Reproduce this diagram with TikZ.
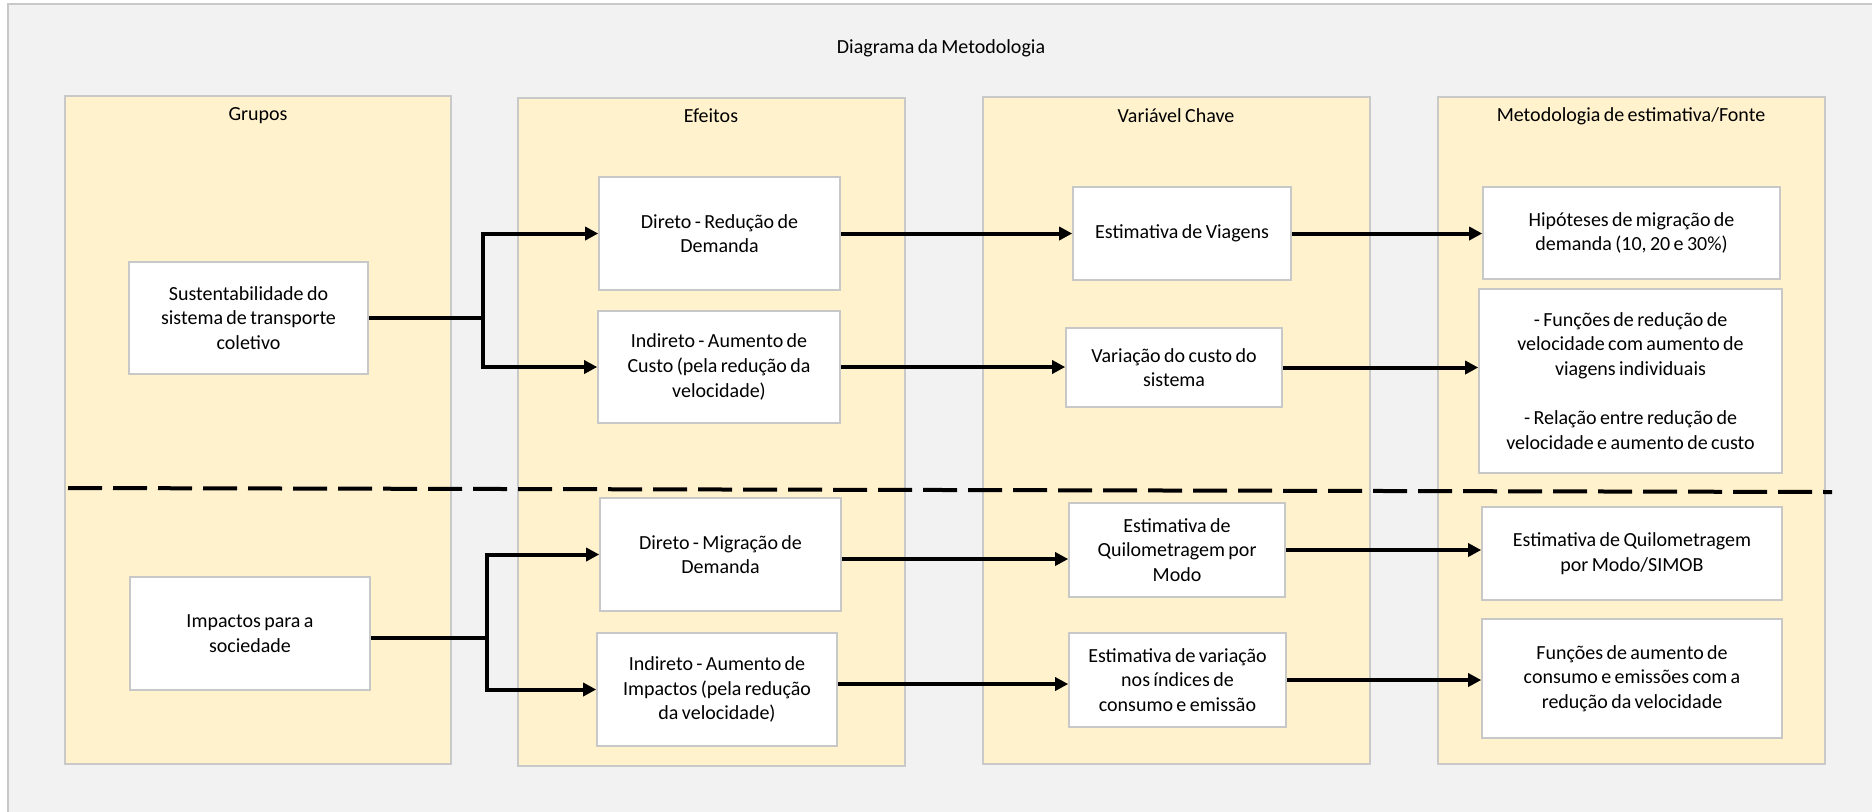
\documentclass[tikz,border=0pt]{standalone}
\usepackage{fontspec}
\setmainfont[WordSpace=0.75]{Carlito}
\usetikzlibrary{arrows.meta}
\definecolor{bgc}{HTML}{F2F2F2}
\definecolor{framec}{HTML}{C8C8C8}
\definecolor{panelc}{HTML}{FFF2CC}
\definecolor{panelb}{HTML}{C9C9C9}
\definecolor{boxb}{HTML}{C8C8C8}
\tikzset{
  panel/.style={fill=panelc, draw=panelb, line width=0.75pt},
  wbox/.style={draw=boxb, fill=white, line width=0.8pt, align=center, inner sep=1pt,
    font=\fontsize{10pt}{12.3pt}\selectfont},
  hdr/.style={font=\fontsize{10pt}{12pt}\selectfont, inner sep=0pt},
  conn/.style={line width=2pt, -{Triangle[length=6.5pt,width=6.5pt]}},
  plainline/.style={line width=2pt},
  sepline/.style={line width=2pt, dash pattern=on 17pt off 5.5pt},
}
\begin{document}
\begin{tikzpicture}[x=0.5pt,y=-0.5pt]
\useasboundingbox (0,0) rectangle (1872,811);
\clip (0,0) rectangle (1872,811);
\fill[white] (0,0) rectangle (1872,811);
\draw[fill=bgc, draw=framec, line width=0.75pt] (8,4) rectangle (1900,840);

% title
\node[hdr] (title) at (941,48) {Diagrama da Metodologia};

% panels
\draw[panel] (65,96) rectangle (451,764);
\draw[panel] (518,98) rectangle (905,766);
\draw[panel] (983,97) rectangle (1370,764);
\draw[panel] (1438,97) rectangle (1825,764);
\node[hdr] (hG) at (258,116) {Grupos};
\node[hdr] (hE) at (711,116) {Efeitos};
\node[hdr] (hV) at (1176,116) {Variável Chave};
\node[hdr] (hM) at (1631,116) {Metodologia de estimativa/Fonte};

% boxes
\node[wbox, minimum width=119.5pt, minimum height=56pt] (S) at (248.5,318)
  {Sustentabilidade do\\sistema de transporte\\coletivo};
\node[wbox, minimum width=120pt, minimum height=56.5pt] (I) at (250,633.5)
  {Impactos para a\\sociedade};

\node[wbox, minimum width=120.5pt, minimum height=56.5pt] (E1) at (719.5,233.5)
  {Direto - Redução de\\Demanda};
\node[wbox, minimum width=121pt, minimum height=56pt] (E2) at (719,367)
  {Indireto - Aumento de\\Custo (pela redução da\\velocidade)};
\node[wbox, minimum width=120.5pt, minimum height=56.5pt] (E3) at (720.5,554.5)
  {Direto - Migração de\\Demanda};
\node[wbox, minimum width=120pt, minimum height=56.5pt] (E4) at (717,689.5)
  {Indireto - Aumento de\\Impactos (pela redução\\da velocidade)};

\node[wbox, minimum width=109pt, minimum height=46.5pt] (V1) at (1182,233.5)
  {Estimativa de Viagens};
\node[wbox, minimum width=108pt, minimum height=39.5pt] (V2) at (1174,367.5)
  {Variação do custo do\\sistema};
\node[wbox, minimum width=108pt, minimum height=47pt] (V3) at (1177,550)
  {Estimativa de\\Quilometragem por\\Modo};
\node[wbox, minimum width=108.5pt, minimum height=47pt] (V4) at (1177.5,680)
  {Estimativa de variação\\nos índices de\\consumo e emissão};

\node[wbox, minimum width=148.5pt, minimum height=46pt] (M1) at (1631.5,233)
  {Hipóteses de migração de\\demanda (10, 20 e 30\%)};
\node[wbox, minimum width=151.5pt, minimum height=92pt] (M2) at (1630.5,381)
  {- Funções de redução de\\velocidade com aumento de\\viagens individuais\\[12.3pt]- Relação entre redução de\\velocidade e aumento de custo};
\node[wbox, minimum width=150pt, minimum height=46.5pt] (M3) at (1632,553.5)
  {Estimativa de Quilometragem\\por Modo/SIMOB};
\node[wbox, minimum width=150pt, minimum height=59.5pt] (M4) at (1632,678.5)
  {Funções de aumento de\\consumo e emissões com a\\redução da velocidade};

% connectors, upper group
\coordinate (j1) at (483,318);
\draw[plainline] (S.east) -- (j1);
\draw[conn] (j1) |- (E1.west);
\draw[conn] (j1) |- (E2.west);
\draw[conn] (E1.east) -- (V1.west);
\draw[conn] (E2.east) -- (E2.east -| V2.west);
\draw[conn] (V1.east) -- (V1.east -| M1.west);
\draw[conn] (V2.east) -- (V2.east -| M2.west);

% connectors, lower group
\coordinate (j2) at (487,638);
\coordinate (y559) at (0,559);
\coordinate (y684) at (0,684);
\draw[plainline] (I.east |- j2) -- (j2);
\draw[conn] (j2) |- (E3.west);
\draw[conn] (j2) |- (E4.west);
\draw[conn] (E3.east |- y559) -- (V3.west |- y559);
\draw[conn] (E4.east |- y684) -- (V4.west |- y684);
\draw[conn] (V3.east) -- (V3.east -| M3.west);
\draw[conn] (V4.east) -- (V4.east -| M4.west);

% separator
\coordinate (sA) at (68,488);
\coordinate (sB) at (1832,492);
\draw[sepline] (sA) -- (sB);
\end{tikzpicture}
\end{document}
